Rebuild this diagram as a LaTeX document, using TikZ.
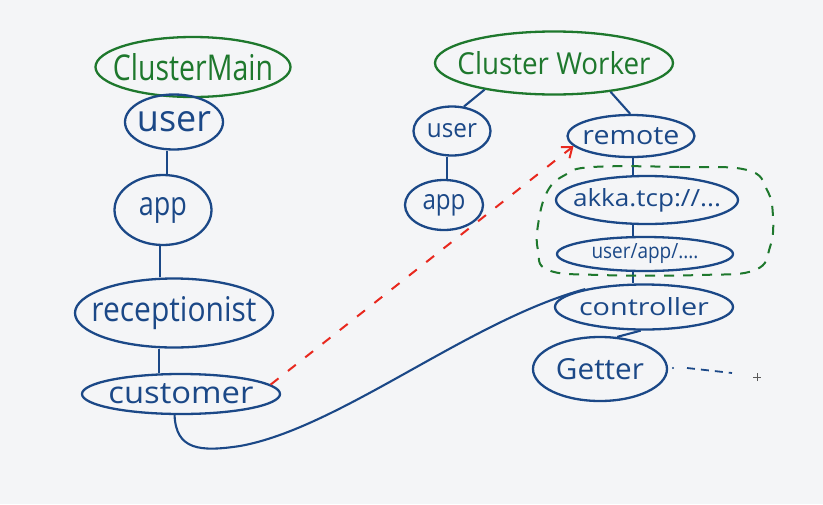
\documentclass[tikz,border=0pt]{standalone}
\usepackage{fontspec}
\setmainfont{Open Sans}
\usetikzlibrary{shapes.geometric,arrows.meta}
\definecolor{ink}{RGB}{27,72,135}
\definecolor{gink}{RGB}{30,120,45}
\definecolor{rink}{RGB}{232,40,30}
\definecolor{bg}{RGB}{244,245,247}
\tikzset{
  bnode/.style={shape=ellipse, draw=ink, line width=2.3pt, inner sep=0pt},
  gnode/.style={shape=ellipse, draw=gink, line width=2.3pt, inner sep=0pt},
  btext/.style={text=ink, inner sep=0pt},
  gtext/.style={text=gink, inner sep=0pt},
  link/.style={draw=ink, line width=2.1pt},
}
\newcommand{\fitt}[3]{\resizebox{#1pt}{#2pt}{#3}}
\begin{document}
\begin{tikzpicture}[x=1pt,y=-1pt]
\useasboundingbox (0,0) rectangle (823,504);
\fill[bg] (0,0) rectangle (823,504);

% left column
\node[gnode, minimum width=195pt, minimum height=60pt, label={[gtext]center:{\fitt{160}{27}{ClusterMain}}}] (cm) at (193,67) {};
\node[bnode, minimum width=98pt, minimum height=55pt, label={[btext]center:{\fitt{74}{20}{user}}}] (u1) at (174,122) {};
\node[bnode, minimum width=97pt, minimum height=70pt, label={[btext]center:{\fitt{48}{18}{app}}}] (a1) at (163,210) {};
\node[bnode, minimum width=198pt, minimum height=69pt, label={[btext]center:{\fitt{165}{25}{receptionist}}}] (rc) at (174,313) {};
\node[bnode, minimum width=198pt, minimum height=40pt, label={[btext]center:{\fitt{145}{20}{customer}}}] (cu) at (181,394) {};

% right side
\node[gnode, minimum width=238pt, minimum height=63pt, label={[gtext]center:{\fitt{193}{23}{Cluster Worker}}}] (cw) at (554,63) {};
\node[bnode, minimum width=77pt, minimum height=49pt, label={[btext]center:{\fitt{50}{14}{user}}}] (u2) at (452,131) {};
\node[bnode, minimum width=78pt, minimum height=50pt, label={[btext]center:{\fitt{43}{15}{app}}}] (a2) at (444,205) {};
\node[bnode, minimum width=127pt, minimum height=42pt, label={[btext]center:{\fitt{97}{17}{remote}}}] (re) at (631,136) {};
\node[bnode, minimum width=182pt, minimum height=48pt, label={[btext]center:{\fitt{148}{18}{akka.tcp://...}}}] (ak) at (647,200) {};
\node[bnode, minimum width=176pt, minimum height=34pt, label={[btext]center:{\fitt{107}{15}{user/app/....}}}] (ua) at (645,254) {};
\node[bnode, minimum width=178pt, minimum height=45pt, label={[btext]center:{\fitt{130}{18}{controller}}}] (ct) at (644,307) {};
\node[bnode, minimum width=134pt, minimum height=64pt, label={[btext]center:{\fitt{88}{21}{Getter}}}] (ge) at (600,369) {};

% connectors left
\draw[link] (u1.south -| 167,0) -- (a1.north -| 167,0);
\draw[link] (a1.south -| 160,0) -- (rc.north -| 160,0);
\draw[link] (rc.south -| 159,0) -- (cu.north -| 159,0);

% connectors right
\draw[link] (cw.201) -- (u2.64);
\draw[link] (cw.333) -- (re.92);
\draw[link] (u2.south -| 447,0) -- (a2.north -| 447,0);
\draw[link] (re.south -| 633,0) -- (ak.north -| 633,0);
\draw[link] (ak.south -| 633,0) -- (ua.north -| 633,0);
\draw[link] (ua.south -| 633,0) -- (ct.north -| 633,0);
\draw[link] (ct.262) -- (ge.62);

% green dashed group
\draw[gink, line width=2pt, dash pattern=on 10pt off 9pt]
  plot[smooth cycle, tension=0.7] coordinates {(593,167) (680,167) (747,170) (767,190) (773,217) (770,247) (755,270) (700,275) (600,275) (548,270) (538,250) (538,225) (547,192) (565,175)};

% red dashed arrow
\draw[rink, line width=2pt, dash pattern=on 10pt off 12pt, -{Straight Barb[length=9pt,width=14pt]}] (cu.6) -- (re.190);

% blue curve customer -> controller
\draw[link] (cu.253) .. controls (176,450) and (200,452) .. (240,446)
  .. controls (340,428) and (470,320) .. (ct.163);

% trailing dots after Getter
\coordinate (d0) at (673,368);
\coordinate (d1) at (687,368);
\coordinate (d2) at (732,373);
\fill[ink] (d0) circle (1.2pt);
\draw[ink, line width=1.8pt, dash pattern=on 8pt off 6pt] (d1) -- (d2);

% cursor cross
\coordinate (cx) at (757,377);
\draw[gray!70!black, line width=0.7pt] ([xshift=-4pt]cx) -- ([xshift=4pt]cx) ([yshift=-4pt]cx) -- ([yshift=4pt]cx);
\end{tikzpicture}
\end{document}
